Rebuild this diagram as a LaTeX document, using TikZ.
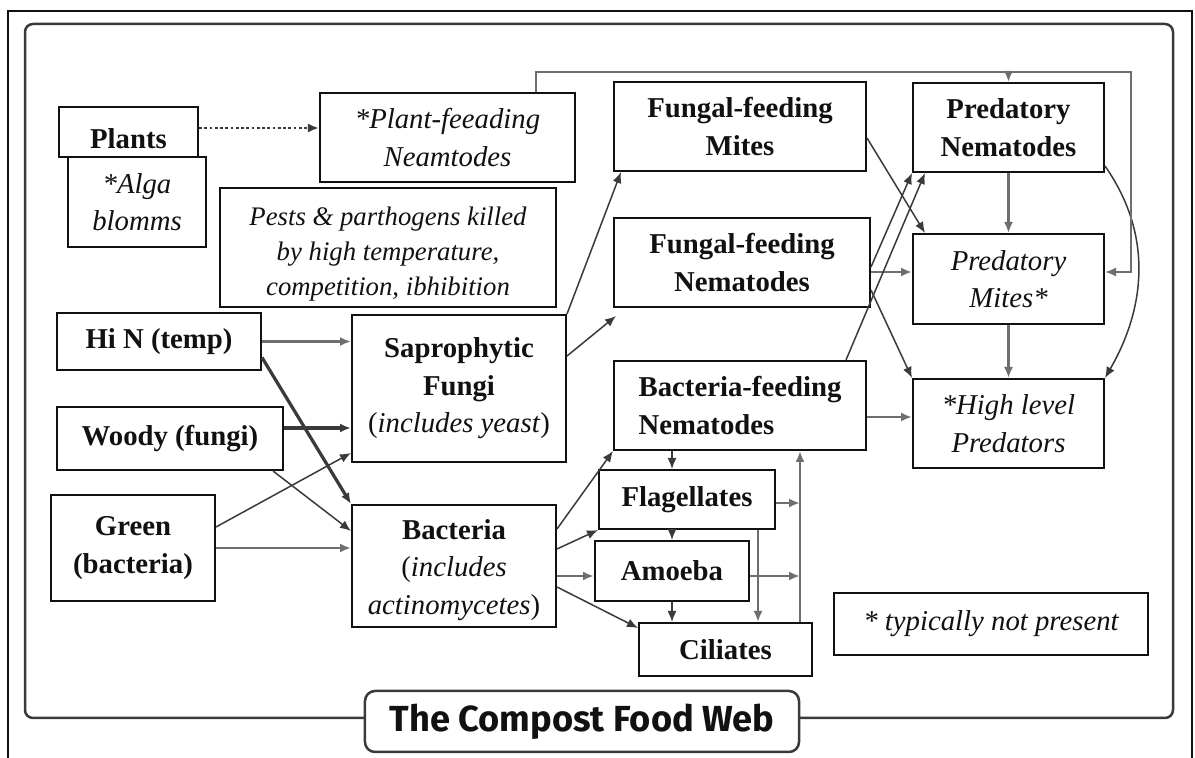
\documentclass[tikz,border=0pt]{standalone}
\usepackage{fontspec}
\setmainfont{Liberation Serif}
\newfontfamily\titlefont{Fira Sans}
\usetikzlibrary{arrows.meta,calc}
\definecolor{ink}{HTML}{111111}
\definecolor{ink2}{HTML}{3A3A3A}
\definecolor{muted}{HTML}{6E6E6E}
\newcommand{\boxfont}{\fontsize{11.5pt}{15pt}\selectfont}
\tikzset{
  every node/.style={font=\boxfont, text=ink, inner sep=0pt},
  grp/.style={draw=ink, line width=0.8pt, fill=white, align=center, font=\boxfont\bfseries},
  rare/.style={grp, font=\boxfont\itshape},
  arr/.style={-{Latex[length=4.4pt,width=3.6pt]}, draw=ink2, line width=0.6pt},
  harr/.style={arr, line width=1.3pt},
  garr/.style={arr, draw=muted, line width=1pt},
  feed/.style={garr, line width=0.8pt},
  frame/.style={draw=ink2, line width=1pt, rounded corners=3.2pt},
}

\begin{document}
\begin{tikzpicture}[x=0.4pt, y=-0.4pt]
% ---- grid (px, y down) --------------------------------------------------------
\def\xM{740} \def\xR{1008.5}
\useasboundingbox (0,0) rectangle (1195,758);

% ---- frames -------------------------------------------------------------------
\draw[ink, line width=0.5pt] (8,758) -- (8,11) -- (1192,11) -- (1192,758);
\draw[frame] (25,24) rectangle (1173,718);

% ---- plants -------------------------------------------------------------------
\node[grp, minimum width=55.6pt, minimum height=20pt] (plants) at (128.5,132) {\rule{0pt}{13pt}Plants};
\node[rare, minimum width=55.2pt, minimum height=36pt] (alga) at (137,202) {*Alga\\blomms};
\node[rare, minimum width=102pt, minimum height=35.6pt] (pfn) at (447.5,137.5) {*Plant-feeading\\Neamtodes};
\node[rare, font=\fontsize{10.7pt}{14pt}\selectfont\itshape, minimum width=134.4pt, minimum height=47.6pt]
     (pests) at (388,247.5) {\rule{0pt}{13pt}Pests \& parthogens killed\\by high temperature,\\competition, ibhibition};

% ---- inputs -------------------------------------------------------------------
\node[grp, minimum width=81.6pt, minimum height=22.8pt] (hin)   at (159,341.5) {Hi N (temp)};
\node[grp, minimum width=90.4pt, minimum height=25.2pt] (woody) at (170,438.5) {Woody (fungi)};
\node[grp, minimum width=65.6pt, minimum height=42.4pt] (green) at (133,548) {Green\\(bacteria)};

% ---- decomposers --------------------------------------------------------------
\node[grp, minimum width=85.6pt, minimum height=58.8pt] (sapro) at (459,388.5)
     {Saprophytic\\Fungi\\{\mdseries(\textit{includes yeast})}};
\node[grp, minimum width=81.6pt, minimum height=48.8pt] (bact) at (454,566)
     {\rule{0pt}{11pt}Bacteria\\{\mdseries(\textit{includes}}\\{\mdseries\textit{actinomycetes})}};

% ---- grazers ------------------------------------------------------------------
\node[grp, minimum width=100.8pt, minimum height=35.6pt] (ffm) at (\xM,126.5) {Fungal-feeding\\Mites};
\node[grp, minimum width=102.4pt, minimum height=35.6pt] (ffn) at (742,262.5) {Fungal-feeding\\Nematodes};
\node[grp, align=left, minimum width=100.8pt, minimum height=35.6pt] (bfn) at (\xM,405.5) {Bacteria-feeding\\Nematodes};
\node[grp, minimum width=70.4pt, minimum height=23.6pt] (flag)   at (687,499.5) {Flagellates};
\node[grp, minimum width=61.6pt, minimum height=24pt]   (amoeba) at (672,571) {Amoeba};
\node[grp, minimum width=69.2pt, minimum height=21.2pt] (cil)    at (725.5,649.5) {Ciliates};

% ---- predators ----------------------------------------------------------------
\node[grp,  minimum width=76.4pt, minimum height=35.6pt] (pnem) at (\xR,127.5) {Predatory\\Nematodes};
\node[rare, minimum width=76.4pt, minimum height=36pt]   (pmit) at (\xR,279) {Predatory\\Mites*};
\node[rare, minimum width=76.4pt, minimum height=35.6pt] (hlp)  at (\xR,423.5) {*High level\\Predators};
\node[rare, minimum width=125.6pt, minimum height=24.8pt] (note) at (991,624) {* typically not present};

% ---- title --------------------------------------------------------------------
\node[draw=ink2, line width=1pt, rounded corners=4pt, fill=white, minimum width=173.6pt, minimum height=24.4pt,
      font=\titlefont\bfseries\fontsize{14.5pt}{16pt}\selectfont] (title) at (582,721.5) {The Compost Food Web};

% ---- edges: plants ------------------------------------------------------------
\draw[arr, line width=1.1pt, densely dotted] ([yshift=1.6pt]plants.east) -- ([yshift=1.6pt]plants.east -| pfn.west);

% ---- edges: inputs ------------------------------------------------------------
\draw[garr, line width=1.1pt] (hin.east) -- (hin.east -| sapro.west);
\draw[harr] ([yshift=-6.4pt]hin.east) -- (bact.north west);
\draw[harr] ([yshift=4.2pt]woody.east) -- ([yshift=4.2pt]woody.east -| sapro.west);
\draw[arr] ([xshift=-4.4pt]woody.south east) -- ([yshift=-10.8pt]bact.north west);
\draw[arr] ([yshift=8.4pt]green.east) -- ([yshift=4pt]sapro.south west);
\draw[garr] (green.east) -- (green.east -| bact.west);

% ---- edges: decomposers -------------------------------------------------------
\draw[arr] (sapro.north east) -- ([xshift=3.2pt]ffm.south west);
\draw[arr] ([yshift=-16.8pt]sapro.north east) -- ([xshift=1.2pt,yshift=-3.2pt]ffn.south west);
\draw[arr] ([yshift=-10pt]bact.north east) -- (bfn.south west);
\draw[arr] ([yshift=-18pt]bact.north east) -- (flag.south west);
\draw[garr] ([yshift=-4pt]bact.east) -- ([yshift=-4pt]bact.east -| amoeba.west);
\draw[arr] ([yshift=-8.4pt]bact.east) -- ([yshift=-2.4pt]cil.north west);

% ---- edges: protozoa ----------------------------------------------------------
\coordinate (bus) at ([xshift=-5.2pt]cil.north east);
\draw[arr] (bfn.south -| amoeba.north) -- (flag.north -| amoeba.north);
\draw[arr] (flag.south -| amoeba.north) -- (amoeba.north);
\draw[arr] (amoeba.south) -- (amoeba.south |- cil.north);
\draw[garr] ([xshift=-7.2pt]flag.south east) -- ([xshift=-7.2pt]flag.south east |- cil.north);
\draw[garr] (bus) -- (bus |- bfn.south);
\draw[garr] ([yshift=-1.4pt]flag.east) -- ([yshift=-1.4pt]flag.east -| bus);
\draw[garr] ([yshift=-2pt]amoeba.east) -- ([yshift=-2pt]amoeba.east -| bus);

% ---- edges: grazers to predators ----------------------------------------------
\draw[arr] ([yshift=-4.6pt]ffm.east) -- ([xshift=5.2pt]pmit.north west);
\draw[garr] ([yshift=-3.8pt]ffn.east) -- ([yshift=-3.8pt]ffn.east -| pmit.west);
\draw[arr] ([yshift=-11pt]ffn.east) -- (hlp.north west);
\draw[arr] ([yshift=-1.8pt]ffn.east) -- (pnem.south west);
\draw[arr] ([xshift=-8.4pt]bfn.north east) -- ([xshift=5.2pt]pnem.south west);
\draw[garr] ([yshift=-4.6pt]bfn.east) -- ([yshift=-4.6pt]bfn.east -| hlp.west);

% ---- edges: predators ---------------------------------------------------------
\draw[garr] (pnem.south) -- (pmit.north);
\draw[garr] (pmit.south) -- (hlp.north);
\draw[arr] ([yshift=2.8pt]pnem.south east) to[out=-55, in=60] (hlp.north east);

% ---- edges: plant feeders -----------------------------------------------------
\coordinate (fb) at (1131,72);
\draw[feed] ([xshift=-16pt]pfn.north east) |- (fb) |- ([yshift=2.8pt]pmit.east);
\draw[feed] (pnem.north |- fb) -- (pnem.north);
\end{tikzpicture}
\end{document}
